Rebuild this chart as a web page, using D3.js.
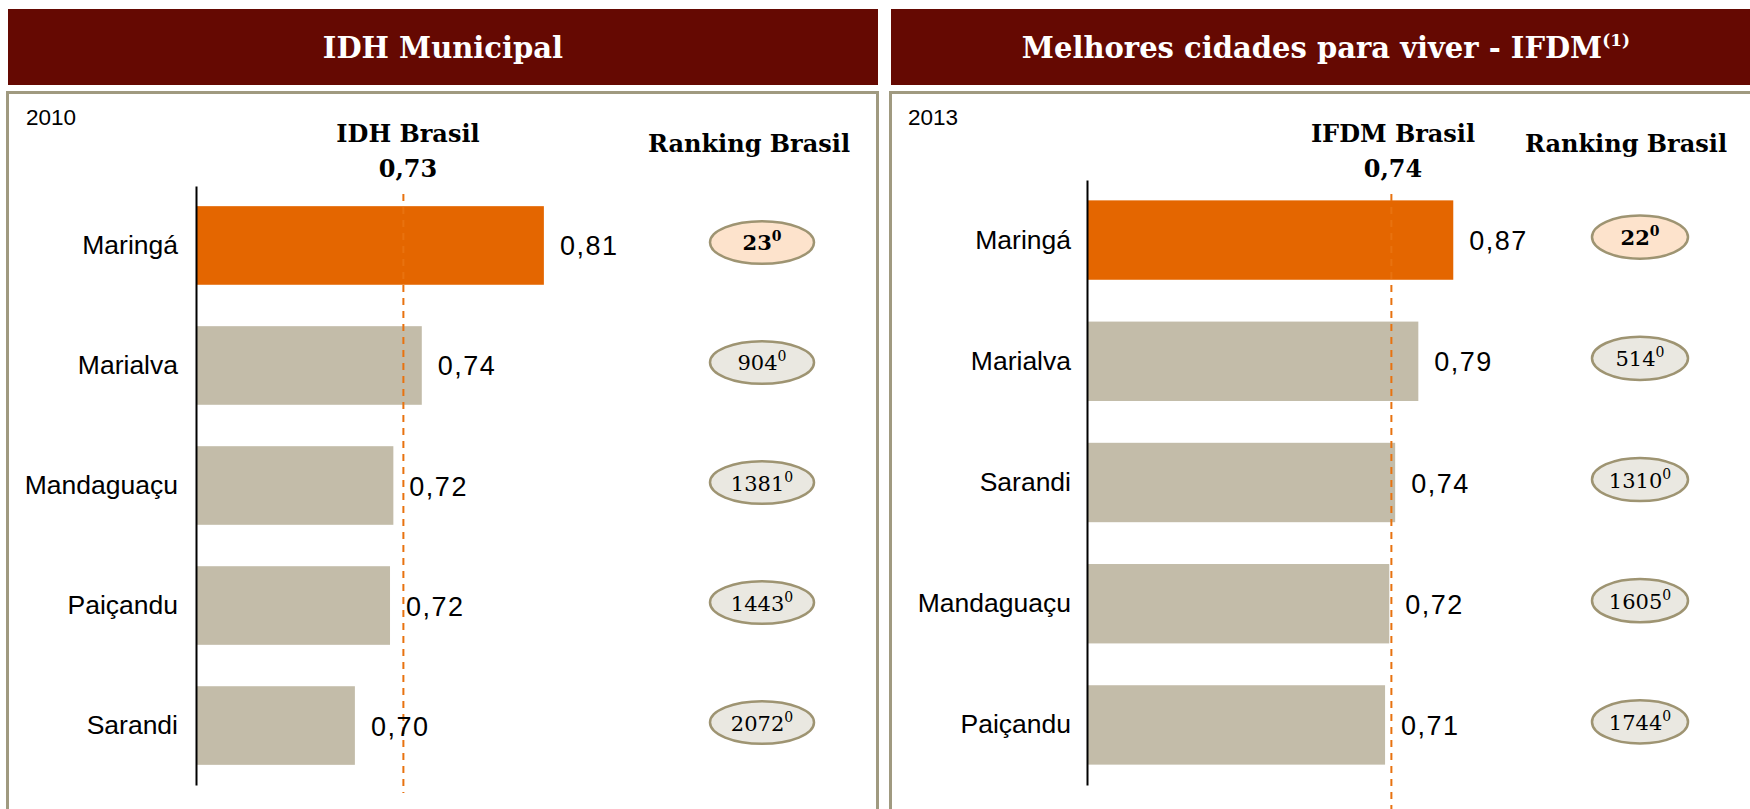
<!DOCTYPE html>
<html>
<head>
<meta charset="utf-8">
<script src="https://cdn.jsdelivr.net/npm/d3@7/dist/d3.min.js"></script>
<style>
  html, body { margin: 0; padding: 0; background: #ffffff; overflow: hidden; }
  svg { display: block; }
</style>
</head>
<body>
<svg id="chart" width="1750" height="809"></svg>
<script>
// ---------------- DATA ----------------
const idhCategories = ["Maringá", "Marialva", "Mandaguaçu", "Paiçandu", "Sarandi"];
const idhValues     = [0.808, 0.735, 0.718, 0.716, 0.695];
const idhLabels     = ["0,81", "0,74", "0,72", "0,72", "0,70"];
const idhRanking    = ["23", "904", "1381", "1443", "2072"];
const idhBrasilValue = 0.724;
const idhBrasilLabel = "0,73";

const ifdmCategories = ["Maringá", "Marialva", "Sarandi", "Mandaguaçu", "Paiçandu"];
const ifdmValues     = [0.870, 0.787, 0.732, 0.718, 0.708];
const ifdmLabels     = ["0,87", "0,79", "0,74", "0,72", "0,71"];
const ifdmRanking    = ["22", "514", "1310", "1605", "1744"];
const ifdmBrasilValue = 0.723;
const ifdmBrasilLabel = "0,74";

const highlightCity = "Maringá";

// ---------------- STYLE ----------------
const C = {
  header: "#650902",
  border: "#a09a80",
  orange: "#e46600",
  grey: "#c3bca9",
  dash: "#e8720f",
  ellStroke: "#9e9472",
  ellHi: "#fde3cc",
  ellLo: "#eae8e1"
};
const SERIF = "'DejaVu Serif', Georgia, serif";
const SANS = "'Liberation Sans', Arial, sans-serif";

const svg = d3.select("#chart");

const panels = [
  {
    title: "IDH Municipal", sup: null, titleX: 443,
    hx0: 8, hx1: 878,
    year: "2010", yearX: 26,
    refTitle: "IDH Brasil", refX: 408, refLabel: idhBrasilLabel, refValue: idhBrasilValue, dashEnd: 793,
    rankX: 762, rankTitleX: 749, minRx: 52, ryRatio: 0.41,
    axisX: 196, domain: [0.6, 1.0], rangeEnd: 865,
    yRange: [186, 785],
    cats: idhCategories, vals: idhValues, labels: idhLabels, ranks: idhRanking,
    catGap: 18
  },
  {
    title: "Melhores cidades para viver - IFDM", sup: "(1)", titleX: 1326,
    hx0: 891, hx1: 1800,
    year: "2013", yearX: 908,
    refTitle: "IFDM Brasil", refX: 1393, refLabel: ifdmBrasilLabel, refValue: ifdmBrasilValue, dashEnd: 812,
    rankX: 1640, rankTitleX: 1626, minRx: 48, ryRatio: 0.45,
    axisX: 1087, domain: [0, 1.0], rangeEnd: 1508,
    yRange: [180, 785],
    cats: ifdmCategories, vals: ifdmValues, labels: ifdmLabels, ranks: ifdmRanking,
    catGap: 16
  }
];

panels.forEach(p => {
  const g = svg.append("g");

  // header band
  g.append("rect")
    .attr("x", p.hx0).attr("y", 9)
    .attr("width", p.hx1 - p.hx0).attr("height", 76)
    .attr("fill", C.header);

  const t = g.append("text")
    .attr("x", p.titleX).attr("y", 58)
    .attr("text-anchor", "middle")
    .attr("font-family", SERIF).attr("font-weight", "bold")
    .attr("font-size", 29).attr("fill", "#ffffff")
    .text(p.title);
  if (p.sup) {
    t.append("tspan").attr("font-size", 17).attr("dy", -12).text(p.sup);
  }

  // content box
  g.append("rect")
    .attr("x", p.hx0 - 0.5).attr("y", 92.5)
    .attr("width", p.hx1 - p.hx0).attr("height", 800)
    .attr("fill", "none").attr("stroke", C.border).attr("stroke-width", 3);

  // year
  g.append("text")
    .attr("x", p.yearX).attr("y", 125)
    .attr("font-family", SANS).attr("font-size", 22.5).attr("fill", "#000")
    .text(p.year);

  // reference titles
  g.append("text")
    .attr("x", p.refX).attr("y", 142).attr("text-anchor", "middle")
    .attr("font-family", SERIF).attr("font-weight", "bold").attr("font-size", 24)
    .text(p.refTitle);
  g.append("text")
    .attr("x", p.refX).attr("y", 177).attr("text-anchor", "middle")
    .attr("font-family", SERIF).attr("font-weight", "bold").attr("font-size", 24)
    .text(p.refLabel);
  g.append("text")
    .attr("x", p.rankTitleX).attr("y", 152).attr("text-anchor", "middle")
    .attr("font-family", SERIF).attr("font-weight", "bold").attr("font-size", 24)
    .text("Ranking Brasil");

  // scales
  const x = d3.scaleLinear().domain(p.domain).range([p.axisX, p.rangeEnd]);
  const y = d3.scaleBand().domain(p.cats).range(p.yRange)
    .paddingInner(0.345).paddingOuter(0.168);

  const data = p.cats.map((c, i) => ({ cat: c, val: p.vals[i], label: p.labels[i], rank: p.ranks[i] }));

  // bars
  g.selectAll("rect.bar").data(data).enter().append("rect")
    .attr("class", "bar")
    .attr("x", x(p.domain[0]))
    .attr("y", d => y(d.cat))
    .attr("width", d => x(d.val) - x(p.domain[0]))
    .attr("height", y.bandwidth())
    .attr("fill", d => d.cat === highlightCity ? C.orange : C.grey);

  // reference dashed line
  g.append("line")
    .attr("x1", x(p.refValue)).attr("x2", x(p.refValue))
    .attr("y1", 194).attr("y2", p.dashEnd)
    .attr("stroke", C.dash).attr("stroke-width", 2)
    .attr("stroke-dasharray", "7,6");

  // axis line (category axis)
  const axis = d3.axisLeft(y).tickSize(0).tickPadding(p.catGap);
  const ag = g.append("g").attr("transform", `translate(${p.axisX},0)`).call(axis);
  ag.select(".domain").attr("stroke", "#000").attr("stroke-width", 2);
  ag.selectAll(".tick text")
    .attr("font-family", SANS).attr("font-size", 26.5).attr("fill", "#000");

  // value labels
  g.selectAll("text.val").data(data).enter().append("text")
    .attr("class", "val")
    .attr("x", d => x(d.val) + 16)
    .attr("y", d => y(d.cat) + y.bandwidth() / 2 + 10)
    .attr("font-family", SANS).attr("font-size", 27)
    .attr("letter-spacing", 1.5).attr("fill", "#000")
    .text(d => d.label);

  // ranking ellipses
  const rg = g.selectAll("g.rank").data(data).enter().append("g")
    .attr("class", "rank")
    .attr("transform", d => `translate(${p.rankX},${y(d.cat) + y.bandwidth() / 2 - 3})`);
  rg.append("ellipse").attr("cx", 0).attr("cy", 0)
    .attr("fill", d => d.cat === highlightCity ? C.ellHi : C.ellLo)
    .attr("stroke", C.ellStroke).attr("stroke-width", 2.5);
  const rt = rg.append("text")
    .attr("x", 0).attr("y", 8).attr("text-anchor", "middle")
    .attr("font-family", SERIF).attr("font-size", 21)
    .attr("font-weight", d => d.cat === highlightCity ? "bold" : "normal")
    .attr("fill", "#000");
  rt.append("tspan").text(d => d.rank);
  rt.append("tspan").attr("font-size", 14).attr("dy", -9).text("0");
  rt.each(function () {
    const w = this.getBBox().width;
    const rx = Math.max(p.minRx, w / 2 + 16);
    d3.select(this.parentNode).select("ellipse")
      .attr("rx", rx).attr("ry", rx * p.ryRatio);
  });
});
</script>
</body>
</html>
